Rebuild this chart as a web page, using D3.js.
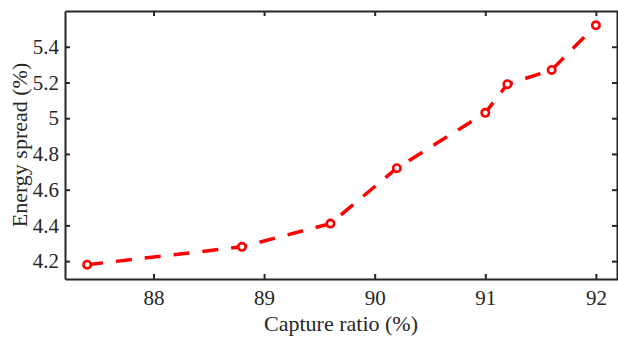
<!DOCTYPE html>
<html>
<head>
<meta charset="utf-8">
<script src="https://cdn.jsdelivr.net/npm/d3@7"></script>
<style>
  html, body { margin: 0; padding: 0; background: #fff; }
  svg { display: block; }
  text { font-family: "Liberation Serif", "Times New Roman", serif; fill: #262626; }
</style>
</head>
<body>
<svg id="chart" width="618" height="337"></svg>
<script>
const captureRatio = [87.4, 88.8, 89.6, 90.2, 91.0, 91.2, 91.6, 92.0];
const energySpread = [4.18, 4.28, 4.41, 4.72, 5.03, 5.19, 5.27, 5.52];
const xTicks = [88, 89, 90, 91, 92];
const yTicks = [4.2, 4.4, 4.6, 4.8, 5.0, 5.2, 5.4];
const xLabel = "Capture ratio (%)";
const yLabel = "Energy spread (%)";

const svg = d3.select("#chart");
const mLeft = 65, mRight = 618, mTop = 11, mBottom = 279;

const x = d3.scaleLinear().domain([87.2, 92.2]).range([mLeft, mRight]);
const y = d3.scaleLinear().domain([4.1, 5.6]).range([mBottom, mTop]);

const axisColor = "#262626";
const serif = '"Liberation Serif", "Times New Roman", serif';
const fmtY = d => String(+d.toFixed(1));

const gx = svg.append("g").attr("transform", `translate(0,${mBottom})`)
  .call(d3.axisBottom(x).tickValues(xTicks).tickSizeInner(-5).tickSizeOuter(0).tickPadding(11).tickFormat(d3.format("d")));
const gxt = svg.append("g").attr("transform", `translate(0,${mTop})`)
  .call(d3.axisTop(x).tickValues(xTicks).tickSizeInner(-5).tickSizeOuter(0).tickFormat(""));
const gy = svg.append("g").attr("transform", `translate(${mLeft},0)`)
  .call(d3.axisLeft(y).tickValues(yTicks).tickSizeInner(-5).tickSizeOuter(0).tickPadding(6).tickFormat(fmtY));
const gyr = svg.append("g").attr("transform", `translate(${mRight - 1},0)`)
  .call(d3.axisRight(y).tickValues(yTicks).tickSizeInner(-5).tickSizeOuter(0).tickFormat(""));

[gx, gxt, gy, gyr].forEach(g => {
  g.attr("font-family", serif);
  g.select(".domain").attr("stroke", axisColor).attr("stroke-width", 2);
  g.selectAll(".tick line").attr("stroke", axisColor).attr("stroke-width", 2);
  g.selectAll(".tick text").attr("font-size", 21).attr("fill", axisColor)
    .style("font-family", serif);
});

const line = d3.line().x((d, i) => x(captureRatio[i])).y(d => y(d));
svg.append("path")
  .datum(energySpread)
  .attr("fill", "none")
  .attr("stroke", "#ff0000")
  .attr("stroke-width", 3.5)
  .attr("stroke-dasharray", "16,13")
  .attr("d", line);

svg.selectAll("circle.pt")
  .data(energySpread)
  .join("circle")
  .attr("class", "pt")
  .attr("cx", (d, i) => x(captureRatio[i]))
  .attr("cy", d => y(d))
  .attr("r", 3.7)
  .attr("fill", "#fff")
  .attr("stroke", "#ff0000")
  .attr("stroke-width", 2.6);

svg.append("text")
  .attr("x", 341)
  .attr("y", 331)
  .attr("text-anchor", "middle")
  .attr("font-size", 22)
  .style("font-family", serif)
  .text(xLabel);

svg.append("text")
  .attr("transform", `translate(27,${(mTop + mBottom) / 2}) rotate(-90)`)
  .attr("text-anchor", "middle")
  .attr("font-size", 22)
  .style("font-family", serif)
  .text(yLabel);
</script>
</body>
</html>
